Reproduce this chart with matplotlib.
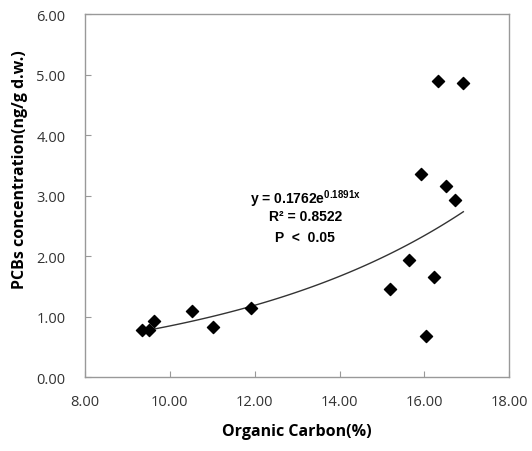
import numpy as np
import matplotlib
matplotlib.use('Agg')
import matplotlib.pyplot as plt

# organic carbon (%) vs PCBs concentration (ng/g d.w.)
oc = [9.33, 9.51, 9.62, 10.51, 11.01, 11.92, 15.20, 15.63, 15.91, 16.03,
      16.22, 16.32, 16.51, 16.72, 16.92]
pcb = [0.78, 0.78, 0.92, 1.09, 0.83, 1.14, 1.46, 1.94, 3.36, 0.67,
       1.65, 4.90, 3.15, 2.93, 4.86]

x_ticks = [8, 10, 12, 14, 16, 18]
y_ticks = [0, 1, 2, 3, 4, 5, 6]
eq_text = r'y = 0.1762e$^{\mathregular{0.1891x}}$'
r2_text = 'R² = 0.8522'
p_text = 'P  <  0.05'

fig = plt.figure(figsize=(5.32, 4.52), dpi=100)
ax = fig.add_axes([0.16, 0.1637, 0.797, 0.803])

ax.scatter(oc, pcb, marker='D', s=38, color='black', zorder=3)

# exponential trend line fitted on the points
b, ln_a = np.polyfit(oc, np.log(pcb), 1)
xs = np.linspace(min(oc) + 0.3, max(oc), 100)
ax.plot(xs, np.exp(ln_a) * np.exp(b * xs), color='#333333', lw=1.0)

ax.set_xlim(8, 18)
ax.set_ylim(0, 6)
ax.set_xticks(x_ticks)
ax.set_yticks(y_ticks)
ax.set_xticklabels(['%.2f' % v for v in x_ticks])
ax.set_yticklabels(['%.2f' % v for v in y_ticks])

for lbl in ax.get_xticklabels() + ax.get_yticklabels():
    lbl.set_fontfamily('Open Sans')
    lbl.set_fontsize(10.5)
    lbl.set_color('#333333')
ax.tick_params(direction='in', length=4, color='#999999', pad=14)
ax.tick_params(axis='x', pad=12)
for sp in ax.spines.values():
    sp.set_color('#999999')
    sp.set_linewidth(1.0)

ax.set_xlabel('Organic Carbon(%)', fontfamily='Open Sans', fontweight='bold',
              fontsize=11.5, labelpad=10)
ax.set_ylabel('PCBs concentration(ng/g d.w.)', fontfamily='Open Sans',
              fontweight='bold', fontsize=11.5)
ax.yaxis.set_label_coords(-0.135, 0.573)

eq_font = dict(family=['Liberation Sans Narrow', 'Liberation Sans'],
               weight='bold', fontsize=10, ha='center', va='center')
ax.text(13.19, 2.96, eq_text, **eq_font)
ax.text(13.19, 2.66, r2_text, **eq_font)
ax.text(13.19, 2.31, p_text, **eq_font)

fig.savefig('out.png', dpi=100)
